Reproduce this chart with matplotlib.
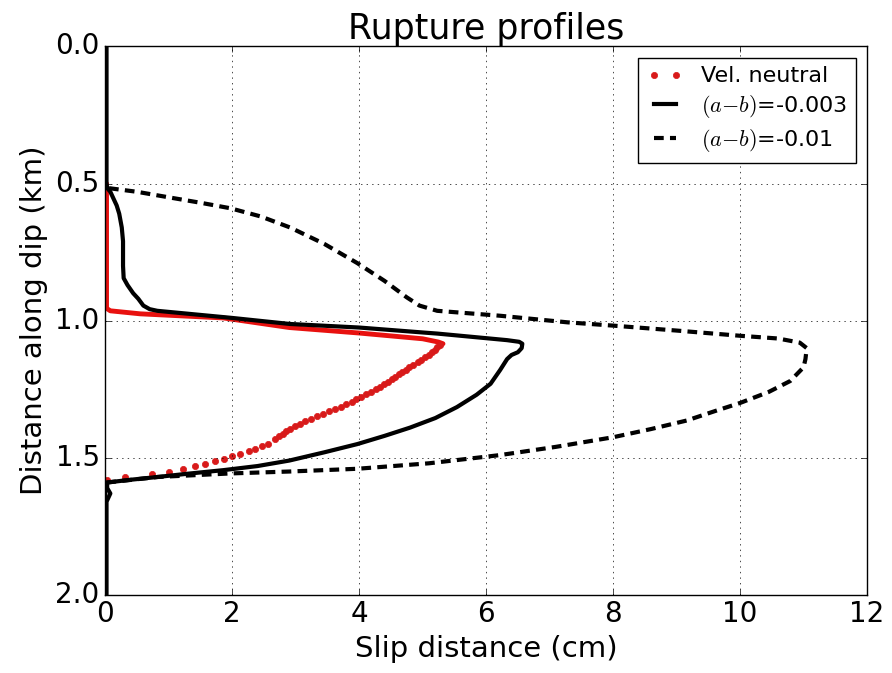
import matplotlib
matplotlib.use("Agg")
from matplotlib import pyplot as plt

plt.style.use("classic")
plt.rcParams["font.family"] = ["DejaVu Sans"]
plt.rcParams["mathtext.fontset"] = "cm"

# 速度中性 (Vel. neutral)：上段为密集点（近似连续），下段为稀疏点
red_top_x = [0.02, 0.02, 0.08, 0.55, 1.86, 2.9, 4.0, 5.0, 5.25, 5.32]
red_top_y = [0.5, 0.955, 0.964, 0.975, 0.99, 1.025, 1.045, 1.066, 1.078, 1.084]

red_dot_x = [0.03, 0.31, 0.74, 1.0, 1.23, 1.42, 1.57, 1.73, 1.87, 2.0, 2.13, 2.26,
             2.36, 2.47, 2.57, 2.68, 2.74, 2.80, 2.85, 2.91, 2.99, 3.07, 3.15, 3.24,
             3.34, 3.43, 3.53, 3.62, 3.72, 3.80, 3.88, 3.95, 4.03, 4.11, 4.19, 4.27,
             4.33, 4.39, 4.46, 4.51, 4.57, 4.62, 4.67, 4.73, 4.79, 4.85, 4.92, 4.98,
             5.04, 5.10, 5.15, 5.19, 5.23, 5.27]
red_dot_y = [1.582, 1.570, 1.560, 1.552, 1.539, 1.531, 1.521, 1.512, 1.503, 1.493,
             1.485, 1.475, 1.467, 1.458, 1.448, 1.430, 1.421, 1.412, 1.403, 1.394,
             1.385, 1.376, 1.367, 1.358, 1.349, 1.340, 1.331, 1.322, 1.313, 1.304,
             1.295, 1.286, 1.277, 1.268, 1.259, 1.250, 1.241, 1.232, 1.223, 1.214,
             1.205, 1.196, 1.187, 1.178, 1.169, 1.160, 1.151, 1.142, 1.133, 1.124,
             1.115, 1.106, 1.097, 1.088]

# (a-b) = -0.003
solid_x = [0.02, 0.02, 0.02, 0.03, 0.08, 0.18, 0.22, 0.26, 0.28, 0.28, 0.29, 0.35,
           0.44, 0.52, 0.6, 0.7, 0.82, 2.0, 2.91, 4.0, 5.0, 5.23, 6.33, 6.52, 6.57,
           6.56, 6.50, 6.40, 6.33, 6.22, 6.07, 5.85, 5.54, 5.2, 4.8, 4.4, 3.97, 3.45,
           2.9, 2.4, 1.86, 1.3, 0.82, 0.4, 0.03, 0.03, 0.08, 0.02, 0.02]
solid_y = [0.0, 0.25, 0.5, 0.516, 0.53, 0.58, 0.61, 0.66, 0.71, 0.80, 0.845, 0.87,
           0.90, 0.92, 0.945, 0.958, 0.964, 0.99, 1.012, 1.025, 1.043, 1.047, 1.071,
           1.077, 1.084, 1.10, 1.115, 1.125, 1.14, 1.18, 1.23, 1.27, 1.315, 1.355,
           1.39, 1.42, 1.45, 1.48, 1.51, 1.53, 1.545, 1.558, 1.57, 1.58, 1.59, 1.61,
           1.63, 1.66, 2.0]

# (a-b) = -0.01
dash_x = [0.0, 0.0, 0.03, 0.5, 1.07, 1.5, 1.97, 2.45, 2.91, 3.45, 3.97, 4.4, 4.75,
          4.95, 5.23, 6.22, 7.28, 8.0, 9.0, 10.0, 10.6, 10.94, 11.05, 11.03, 11.0,
          10.79, 10.45, 10.0, 9.6, 9.16, 8.6, 8.0, 7.1, 6.22, 5.1, 3.97, 2.9, 1.97,
          0.82, 0.03, 0.0, 0.0]
dash_y = [0.0, 0.5, 0.516, 0.53, 0.553, 0.57, 0.59, 0.62, 0.66, 0.72, 0.79, 0.855,
          0.915, 0.945, 0.964, 0.982, 1.006, 1.018, 1.036, 1.055, 1.065, 1.08, 1.10,
          1.14, 1.17, 1.22, 1.26, 1.30, 1.33, 1.364, 1.395, 1.425, 1.46, 1.49, 1.52,
          1.54, 1.55, 1.557, 1.57, 1.59, 1.6, 2.0]

x_ticks = [0, 2, 4, 6, 8, 10, 12]
y_ticks = [0.0, 0.5, 1.0, 1.5, 2.0]

fig = plt.figure(figsize=(8.92, 6.73), dpi=100, facecolor="white")
ax = fig.add_axes([0.118, 0.116, 0.854, 0.815])

ax.plot(red_top_x, red_top_y, "-", color="#e8110f", lw=3.5, solid_capstyle="round")
ax.plot(red_dot_x, red_dot_y, ".", color="#d81a1a", ms=9, mec="#d81a1a",
        label="Vel. neutral")
ax.plot(solid_x, solid_y, "k-", lw=3, solid_joinstyle="round",
        label=r"$(a{-}b)$=-0.003")
ax.plot(dash_x, dash_y, "k--", lw=3, dashes=(7, 4.5), label=r"$(a{-}b)$=-0.01")

ax.set_xlim(0, 12)
ax.set_ylim(2.0, 0.0)
ax.set_xticks(x_ticks)
ax.set_yticks(y_ticks)
ax.set_yticklabels([f"{v:.1f}" for v in y_ticks])
ax.tick_params(labelsize=20)
ax.grid(True)

ax.set_title("Rupture profiles", fontsize=25)
ax.set_xlabel("Slip distance (cm)", fontsize=21)
ax.set_ylabel("Distance along dip (km)", fontsize=21)

ax.legend(loc="upper right", fontsize=16, handlelength=1.6, labelspacing=0.3)

fig.savefig("out.png", dpi=100, facecolor="white")
